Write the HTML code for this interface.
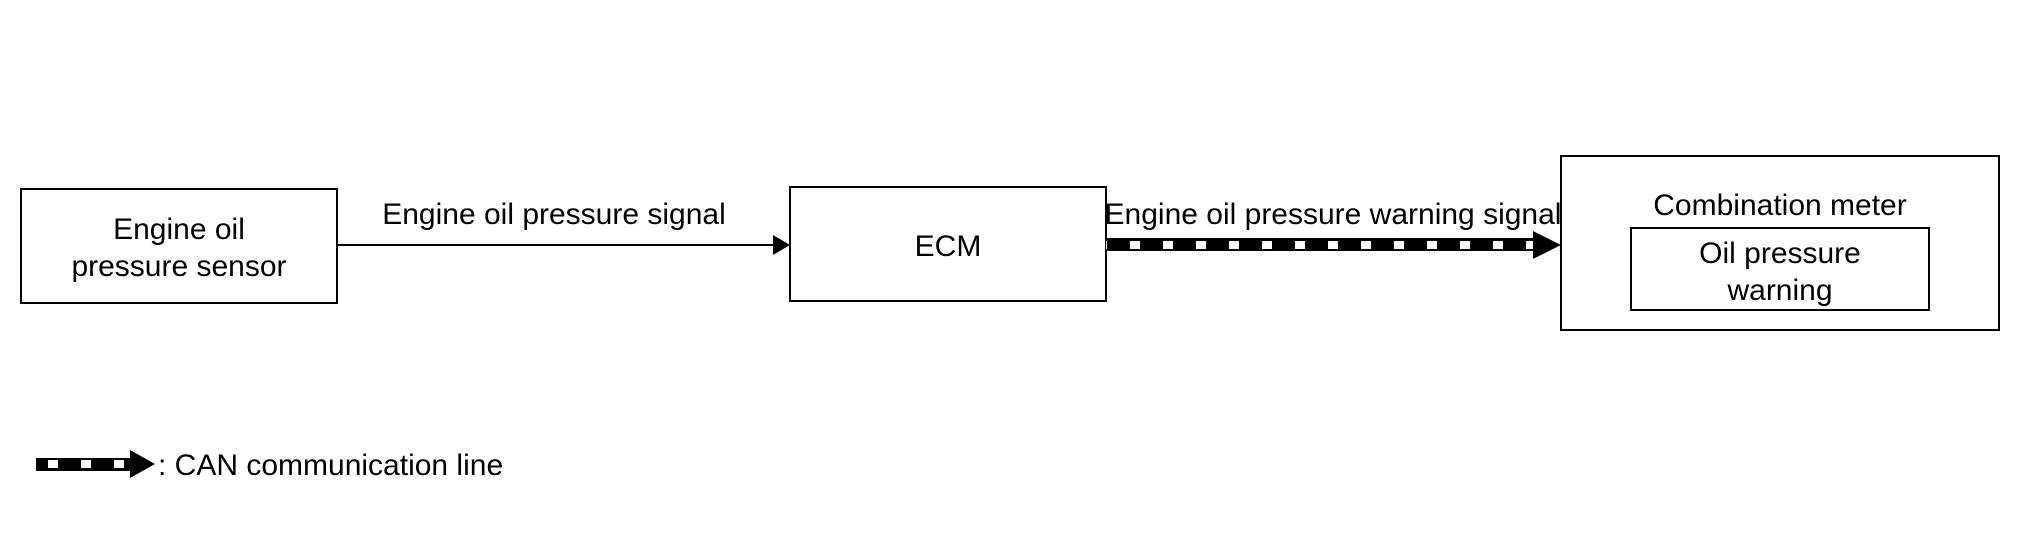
<!DOCTYPE html>
<html><head><meta charset="utf-8"><style>
html,body{margin:0;padding:0;background:#fff;}
svg text{font-family:"Liberation Sans",Arial,sans-serif;font-size:30px;fill:#000;}
</style></head><body>
<svg width="2020" height="544" viewBox="0 0 2020 544" xmlns="http://www.w3.org/2000/svg">
<defs>
<pattern id="dash" x="1118" y="0" width="33" height="10" patternUnits="userSpaceOnUse">
<rect x="0" y="0" width="33" height="10" fill="#000"/><rect x="12" y="1" width="10" height="8" fill="#fff"/>
</pattern>
</defs>
<g fill="none" stroke="#000" stroke-width="2">
<rect x="21" y="189" width="316" height="114"/>
<rect x="790" y="187" width="316" height="114"/>
<rect x="1561" y="156" width="438" height="174"/>
<rect x="1631" y="228" width="298" height="82"/>
<line x1="337" y1="245" x2="776" y2="245"/>
</g>
<polygon points="773,235 790,245 773,255" fill="#000"/>
<rect x="1106" y="238" width="430" height="13" fill="#000"/>
<rect x="1106" y="240" width="430" height="9" fill="url(#dash)"/>
<polygon points="1533,231 1561,245 1533,259" fill="#000"/>
<rect x="36" y="458" width="98" height="13" fill="#000"/>
<rect x="48" y="460" width="10" height="8" fill="#fff"/>
<rect x="81" y="460" width="10" height="8" fill="#fff"/>
<rect x="114" y="460" width="10" height="8" fill="#fff"/>
<polygon points="130,450 155,464 130,478" fill="#000"/>
<text x="179" y="239" text-anchor="middle">Engine oil</text>
<text x="179" y="276" text-anchor="middle">pressure sensor</text>
<text x="554" y="224" text-anchor="middle">Engine oil pressure signal</text>
<text x="948" y="256" text-anchor="middle">ECM</text>
<text x="1333" y="224" text-anchor="middle">Engine oil pressure warning signal</text>
<text x="1780" y="215" text-anchor="middle">Combination meter</text>
<text x="1780" y="263" text-anchor="middle">Oil pressure</text>
<text x="1780" y="300" text-anchor="middle">warning</text>
<text x="158" y="475">: CAN communication line</text>
</svg>
</body></html>
